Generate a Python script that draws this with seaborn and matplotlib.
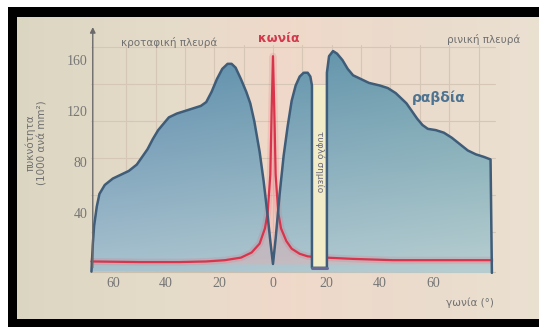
import numpy as np
import matplotlib
matplotlib.use("Agg")
import matplotlib.pyplot as plt
from matplotlib.patches import Rectangle, Polygon
import seaborn as sns

sns.set_style("white")
plt.rcParams['font.family'] = ['DejaVu Sans']

# rod density (1000 per mm2) vs angle (deg), temporal side negative
rod_angle = [-68, -67.5, -67, -66, -65, -63, -60, -57, -54, -51, -49, -47, -45, -43, -41,
             -39, -36, -33, -30, -27, -25, -23, -21, -19, -17, -15.5, -14, -12, -10, -8.5,
             -7, -5, -3.5, -2, -1, 0, 1, 2.5, 4, 5.5, 7, 8.5, 10, 11.5, 13, 14, 14.6,
             14.6, 20.2, 20.2, 21, 22.5, 24, 26, 28, 30, 33, 36, 40, 43, 46, 48, 50, 52,
             54, 56, 58, 61, 64, 67, 70, 73, 76, 79, 81.5, 82]
rod_value = [-6, 15, 30, 45, 55, 62, 67, 70, 73, 78, 84, 90, 98, 105, 110,
             115, 118, 120, 122, 124, 127, 135, 145, 153, 157, 157, 154, 145, 135, 126,
             112, 88, 65, 38, 18, 0, 20, 55, 85, 108, 128, 140, 147, 150, 150, 147, 140,
             -3, -3, 150, 163, 167, 165, 160, 153, 148, 145, 142, 140, 138, 134, 130, 126, 120,
             114, 109, 106, 105, 103, 99, 94, 89, 86, 84, 82, -7]

# cone density
cone_angle = [-68, -50, -35, -25, -18, -12, -8, -5, -3, -2, -1, -0.5, 0,
              0.5, 1, 2, 3, 5, 7, 10, 13, 16, 20, 30, 45, 60, 81.5]
cone_value = [2, 1.5, 1.5, 2, 3, 5, 9, 16, 28, 40, 70, 120, 163,
              120, 70, 40, 28, 18, 12, 8, 6, 5.5, 5, 4, 3, 3, 3]

blind_spot = (14.6, 20.2)
x_ticks = [-60, -40, -20, 0, 20, 40, 60]
x_labels = ["60", "40", "20", "0", "20", "40", "60"]
y_ticks = [40, 80, 120, 160]

W, H = 539, 327
fig = plt.figure(figsize=(W / 100, H / 100), dpi=100, facecolor="white")

# photo frame: black border, then paper-coloured background
frame = fig.add_axes([0, 0, 1, 1], zorder=-2)
frame.axis("off")
frame.add_patch(Rectangle((8, 7), W - 8, H - 7, facecolor="black", edgecolor="none"))
stops = [0, 0.3, 0.5, 0.75, 1]
cols = np.array([[0.86, 0.84, 0.76], [0.90, 0.86, 0.79], [0.94, 0.85, 0.79],
                 [0.92, 0.86, 0.80], [0.92, 0.88, 0.82]])
xs = np.linspace(0, 1, 300)
grad = np.stack([np.interp(xs, stops, cols[:, k]) for k in range(3)], axis=-1)
frame.imshow(grad[None, :, :], aspect="auto", extent=[17, W, 319, 17], zorder=2)
frame.set_xlim(0, W)
frame.set_ylim(H, 0)

ax = fig.add_axes([90.1 / W, (H - 274.2) / H, 409.8 / W, 252.45 / H], zorder=1)
ax.set_facecolor("none")
ax.set_xlim(-68.5, 85)
ax.set_ylim(-8, 190)
for s in ax.spines.values():
    s.set_visible(False)

# paper grid
for gx in np.arange(-55, 80, 11):
    ax.plot([gx, gx], [-6, 172], color="#d6c6b6", lw=0.8, zorder=0.5)
for gy in [170, 141, 112, 83, 54, 25]:
    ax.plot([-68, 83], [gy, gy], color="#d6c6b6", lw=0.8, zorder=0.5)
ax.plot([-68, 83], [-6.3, -6.3], color="#cbbfae", lw=0.8, zorder=0.5)

# rods: gradient fill clipped to the curve
poly = Polygon(np.column_stack([rod_angle, rod_value]), closed=True,
               facecolor="none", edgecolor="none")
ax.add_patch(poly)
ny, nx = 120, 200
t = np.linspace(0, 1, ny)[:, None, None]
s = np.linspace(0, 1, nx)[None, :, None]
top_l = np.array([0.36, 0.54, 0.68])
top_r = np.array([0.42, 0.62, 0.67])
bot_l = np.array([0.66, 0.76, 0.81])
bot_r = np.array([0.72, 0.81, 0.82])
top = top_l * (1 - s) + top_r * s
bot = bot_l * (1 - s) + bot_r * s
img = bot * (1 - t) + top * t
im = ax.imshow(img, origin="lower", aspect="auto", extent=[-68.5, 85, -8, 168], zorder=2)
im.set_clip_path(poly)

# cones
ax.fill_between(cone_angle, 0, cone_value, color="#f2a9aa", alpha=0.35, lw=0, zorder=3)
ax.plot(cone_angle, cone_value, color="#e05060", lw=5, alpha=0.15, zorder=3.5)
sns.lineplot(x=cone_angle, y=cone_value, ax=ax, color="#d8344c", lw=1.6,
             estimator=None, sort=False, zorder=4)

# blind spot
ax.add_patch(Rectangle((blind_spot[0], -3), blind_spot[1] - blind_spot[0], 143,
                       facecolor="#f3ecc8", edgecolor="none", zorder=5))
sns.lineplot(x=rod_angle, y=rod_value, ax=ax, color="#3f5c78", lw=1.8,
             estimator=None, sort=False, zorder=6)
ax.plot([blind_spot[0], blind_spot[1]], [-3, -3], color="#6a6a98", lw=2.2, zorder=6)

# y axis with arrow
ax.annotate("", xy=(-67.5, 188), xytext=(-67.5, -5),
            arrowprops=dict(arrowstyle="-|>", color="#6a6a6a", lw=1, mutation_scale=8),
            annotation_clip=False, zorder=7)

ax.set_xticks(x_ticks)
ax.set_xticklabels(x_labels)
ax.set_yticks(y_ticks)
ax.set_yticklabels([str(v) for v in y_ticks])
ax.tick_params(length=0, labelsize=10, labelcolor="#767676", pad=2)
for lab in ax.get_xticklabels() + ax.get_yticklabels():
    lab.set_fontfamily("Liberation Serif")
ax.set_xlabel("")
ax.set_ylabel("")

ax.text(-39, 174, "κροταφική πλευρά", fontsize=7.5, color="#707070", ha="center", va="center")
ax.text(2, 177, "κωνία", fontsize=9, color="#d23a4e", fontweight="bold", ha="center", va="center")
ax.text(79, 176, "ρινική πλευρά", fontsize=7.5, color="#707070", ha="center", va="center")
ax.text(62, 130, "ραβδία", fontsize=10, color="#4d7390", fontweight="bold", ha="center", va="center")
ax.text(17.4, 80, "τυφλό σημείο", fontsize=6.5, color="#6a6a7a", rotation=-90,
        ha="center", va="center", zorder=7)
ax.text(73.8, -30.6, "γωνία (°)", fontsize=7.5, color="#707070", ha="center", va="center",
        clip_on=False)
fig.text(36 / W, (H - 143) / H, "πυκνότητα\n(1000 ανά mm²)", fontsize=7.5, color="#707070",
         rotation=90, ha="center", va="center", linespacing=1.2)

fig.savefig("out.png", dpi=100, facecolor="white")
